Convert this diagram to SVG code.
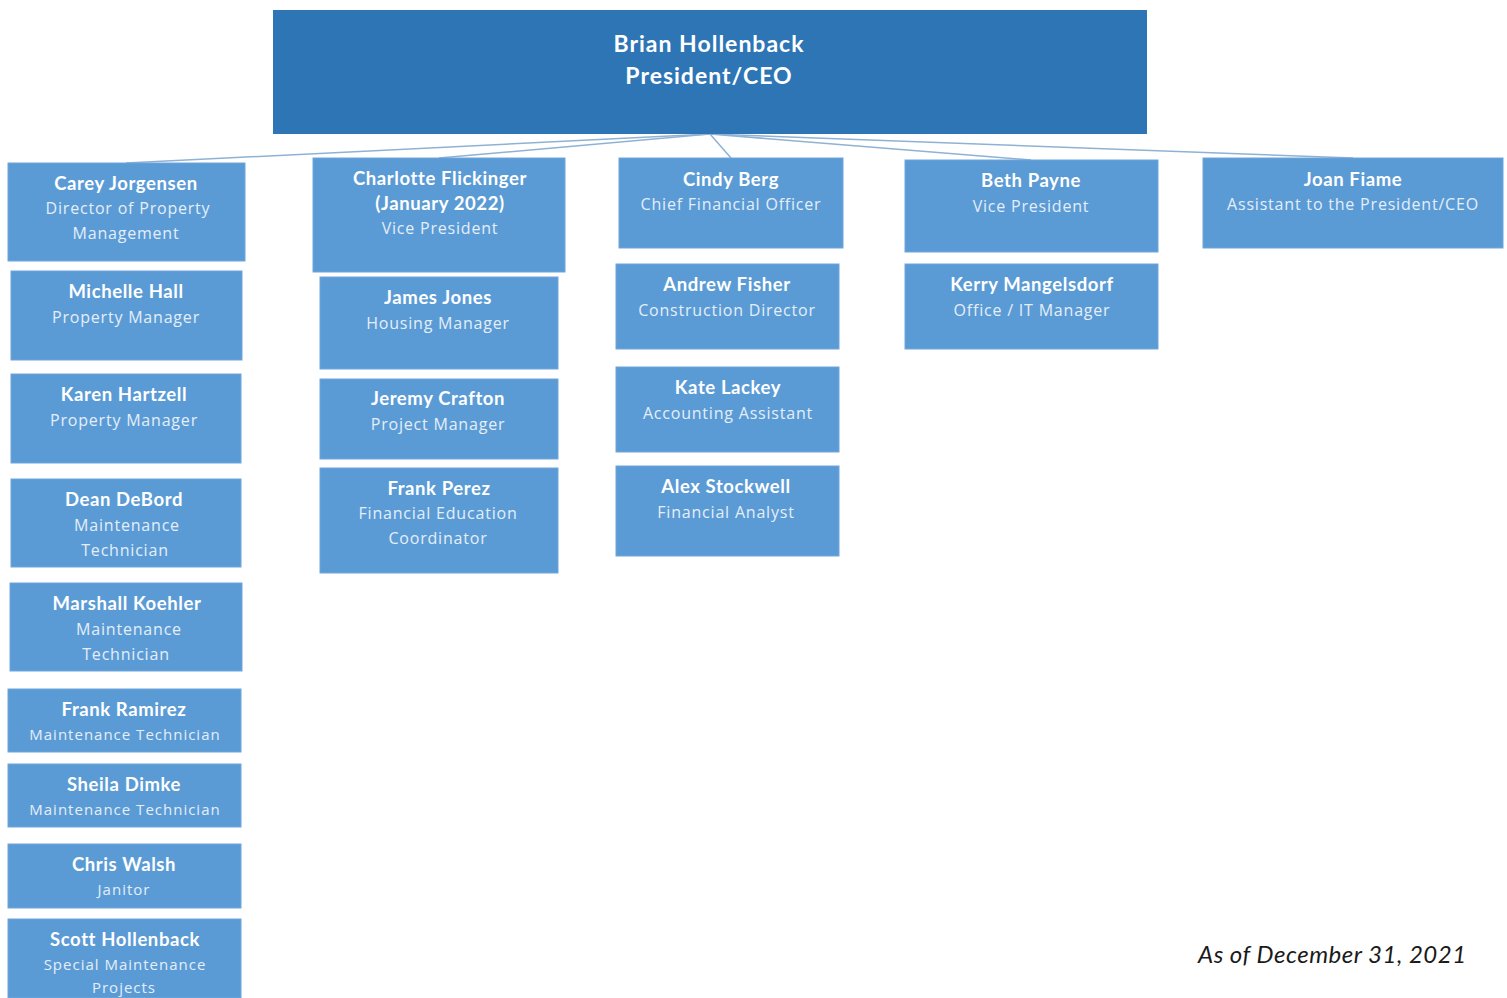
<svg xmlns="http://www.w3.org/2000/svg" width="1507" height="998" viewBox="0 0 1507 998">
<style>
.box{fill:#5b9bd5;stroke:#6fa6da;stroke-width:1}
.ceo{fill:#2e75b6}
.t{font-family:Lato,"Liberation Sans",sans-serif;font-weight:bold;font-size:18.5px;letter-spacing:0.6px;fill:#ffffff;text-anchor:middle}
.s{font-family:"Open Sans","Liberation Sans",sans-serif;font-size:16px;letter-spacing:0.8px;fill:#e4eef9;text-anchor:middle}
.s2{font-family:"Open Sans","Liberation Sans",sans-serif;font-size:15px;letter-spacing:1px;fill:#e4eef9;text-anchor:middle}
.ct{font-family:Lato,"Liberation Sans",sans-serif;font-weight:bold;font-size:23px;letter-spacing:1px;fill:#ffffff;text-anchor:middle}
.c{stroke:#8fb2d4;stroke-width:1.5;fill:none}
</style>
<rect width="1507" height="998" fill="#ffffff"/>
<g id="connectors">
<line class="c" x1="710" y1="134" x2="126" y2="163"/>
<line class="c" x1="710" y1="134" x2="439" y2="158"/>
<line class="c" x1="710" y1="134" x2="731" y2="158"/>
<line class="c" x1="710" y1="134" x2="1031" y2="160"/>
<line class="c" x1="710" y1="134" x2="1353" y2="158"/>
</g>
<g id="ceo">
<rect class="ceo" x="273" y="10" width="874" height="124"/>
<text class="ct" x="709" y="52">Brian Hollenback</text>
<text class="ct" x="709" y="84">President/CEO</text>
</g>
<g id="carey">
<rect class="box" x="8" y="163" width="237" height="98"/>
<text class="t" x="126" y="190">Carey Jorgensen</text>
<text class="s" x="128" y="214">Director of Property</text>
<text class="s" x="126" y="239">Management</text>
</g>
<g id="michelle">
<rect class="box" x="11" y="271" width="231" height="89"/>
<text class="t" x="126" y="298">Michelle Hall</text>
<text class="s" x="126" y="323">Property Manager</text>
</g>
<g id="karen">
<rect class="box" x="11" y="374" width="230" height="89"/>
<text class="t" x="124" y="401">Karen Hartzell</text>
<text class="s" x="124" y="426">Property Manager</text>
</g>
<g id="dean">
<rect class="box" x="11" y="479" width="230" height="88"/>
<text class="t" x="124" y="506">Dean DeBord</text>
<text class="s" x="127" y="531">Maintenance</text>
<text class="s" x="125" y="556">Technician</text>
</g>
<g id="marshall">
<rect class="box" x="10" y="583" width="232" height="88"/>
<text class="t" x="127" y="610">Marshall Koehler</text>
<text class="s" x="129" y="635">Maintenance</text>
<text class="s" x="126" y="660">Technician</text>
</g>
<g id="frank-ramirez">
<rect class="box" x="8" y="689" width="233" height="63"/>
<text class="t" x="124" y="716">Frank Ramirez</text>
<text class="s2" x="125" y="740">Maintenance Technician</text>
</g>
<g id="sheila">
<rect class="box" x="8" y="764" width="233" height="63"/>
<text class="t" x="124" y="791">Sheila Dimke</text>
<text class="s2" x="125" y="815">Maintenance Technician</text>
</g>
<g id="chris">
<rect class="box" x="8" y="844" width="233" height="64"/>
<text class="t" x="124" y="871">Chris Walsh</text>
<text class="s2" x="124" y="895">Janitor</text>
</g>
<g id="scott">
<rect class="box" x="8" y="919" width="233" height="79"/>
<text class="t" x="125" y="946">Scott Hollenback</text>
<text class="s2" x="125" y="970">Special Maintenance</text>
<text class="s2" x="124" y="993">Projects</text>
</g>
<g id="charlotte">
<rect class="box" x="313" y="158" width="252" height="114"/>
<text class="t" x="440" y="185">Charlotte Flickinger</text>
<text class="t" x="440" y="210">(January 2022)</text>
<text class="s" x="440" y="234">Vice President</text>
</g>
<g id="james">
<rect class="box" x="320" y="277" width="238" height="92"/>
<text class="t" x="438" y="304">James Jones</text>
<text class="s" x="438" y="329">Housing Manager</text>
</g>
<g id="jeremy">
<rect class="box" x="320" y="379" width="238" height="80"/>
<text class="t" x="438" y="405">Jeremy Crafton</text>
<text class="s" x="438" y="430">Project Manager</text>
</g>
<g id="frank-perez">
<rect class="box" x="320" y="468" width="238" height="105"/>
<text class="t" x="439" y="495">Frank Perez</text>
<text class="s" x="438" y="519">Financial Education</text>
<text class="s" x="438" y="544">Coordinator</text>
</g>
<g id="cindy">
<rect class="box" x="619" y="158" width="224" height="90"/>
<text class="t" x="731" y="186">Cindy Berg</text>
<text class="s" x="731" y="210">Chief Financial Officer</text>
</g>
<g id="andrew">
<rect class="box" x="616" y="264" width="223" height="85"/>
<text class="t" x="727" y="291">Andrew Fisher</text>
<text class="s" x="727" y="316">Construction Director</text>
</g>
<g id="kate">
<rect class="box" x="616" y="367" width="223" height="85"/>
<text class="t" x="728" y="394">Kate Lackey</text>
<text class="s" x="728" y="419">Accounting Assistant</text>
</g>
<g id="alex">
<rect class="box" x="616" y="466" width="223" height="90"/>
<text class="t" x="726" y="493">Alex Stockwell</text>
<text class="s" x="726" y="518">Financial Analyst</text>
</g>
<g id="beth">
<rect class="box" x="905" y="160" width="253" height="92"/>
<text class="t" x="1031" y="187">Beth Payne</text>
<text class="s" x="1031" y="212">Vice President</text>
</g>
<g id="kerry">
<rect class="box" x="905" y="264" width="253" height="85"/>
<text class="t" x="1032" y="291">Kerry Mangelsdorf</text>
<text class="s" x="1032" y="316">Office / IT Manager</text>
</g>
<g id="joan">
<rect class="box" x="1203" y="158" width="300" height="90"/>
<text class="t" x="1353" y="186">Joan Fiame</text>
<text class="s" x="1353" y="210">Assistant to the President/CEO</text>
</g>
<text x="1198" y="963" font-family="Lato,'Open Sans','Liberation Sans',sans-serif" font-style="italic" font-size="24" letter-spacing="0.5" fill="#1a1a1a">As of December 31, 2021</text>
</svg>
